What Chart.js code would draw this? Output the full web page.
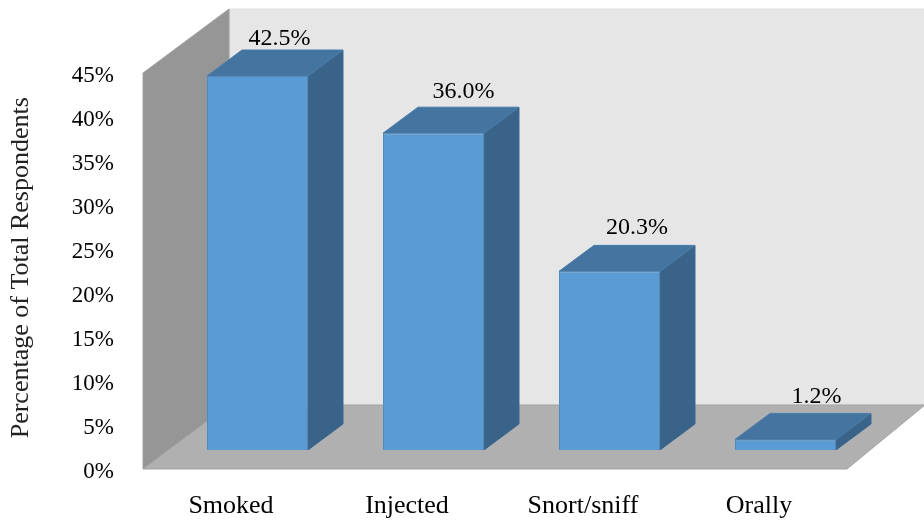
<!DOCTYPE html>
<html>
<head>
<meta charset="utf-8">
<title>Route of administration</title>
<script src="https://cdn.jsdelivr.net/npm/chart.js@4/dist/chart.umd.min.js"></script>
<style>
    html, body { margin: 0; padding: 0; background: #ffffff; }
    canvas { display: block; }
</style>
</head>
<body>
<canvas id="routeChart" width="924" height="521"></canvas>
<script>
// Chart data
var categories = ['Smoked', 'Injected', 'Snort/sniff', 'Orally'];
var shares = [42.5, 36.0, 20.3, 1.2];
var yTicks = [0, 5, 10, 15, 20, 25, 30, 35, 40, 45];
var yTitle = 'Percentage of Total Respondents';

// Fake 3D look: depth of the box, depth of each bar, and where bars sit on the floor
var WALL_DEPTH = { x: 86, xRight: 78, y: -64 };
var BAR_DEPTH = { x: 35, y: -26 };
var BAR_SHIFT = { x: 26.5, y: -19 };
var LABEL_NUDGE = [{ x: 22, y: -11 }, { x: 30, y: -15 }, { x: 27.5, y: -18 }, { x: 31, y: -17 }];
var TICK_DROP = 3;

var FONT = '"Liberation Serif", serif';

function fillPoly(ctx, points, fill, stroke) {
    ctx.beginPath();
    points.forEach(function(p, i) {
        if (i === 0) {
            ctx.moveTo(p[0], p[1]);
        } else {
            ctx.lineTo(p[0], p[1]);
        }
    });
    ctx.closePath();
    ctx.fillStyle = fill;
    ctx.fill();
    if (stroke) {
        ctx.lineWidth = 1;
        ctx.strokeStyle = stroke;
        ctx.stroke();
    }
}

var box3d = {
    id: 'box3d',
    afterLayout: function(chart) {
        // Serif digits sit a little low next to the axis positions
        chart.scales.y.getLabelItems().forEach(function(item) {
            item.textOffset += TICK_DROP;
        });
    },
    beforeDatasetsDraw: function(chart) {
        var ctx = chart.ctx;
        var area = chart.chartArea;
        var d = WALL_DEPTH;

        // Back wall, side wall, floor
        fillPoly(ctx, [[area.left + d.x, area.top + d.y], [area.right + d.xRight, area.top + d.y],
            [area.right + d.xRight, area.bottom + d.y], [area.left + d.x, area.bottom + d.y]], '#e6e6e6', '#dcdcdc');
        fillPoly(ctx, [[area.left, area.top], [area.left + d.x, area.top + d.y],
            [area.left + d.x, area.bottom + d.y], [area.left, area.bottom]], '#969696', '#a0a0a0');
        fillPoly(ctx, [[area.left, area.bottom], [area.left + d.x, area.bottom + d.y],
            [area.right + d.xRight, area.bottom + d.y], [area.right, area.bottom]], '#b0b0b0', '#a4a4a4');

        // Top and side of every bar, taken from the bar elements
        chart.getDatasetMeta(0).data.forEach(function(bar) {
            var left = bar.x - bar.width / 2 + BAR_SHIFT.x;
            var right = bar.x + bar.width / 2 + BAR_SHIFT.x;
            var top = bar.y + BAR_SHIFT.y;
            var base = bar.base + BAR_SHIFT.y;
            var b = BAR_DEPTH;
            fillPoly(ctx, [[right, top], [right + b.x, top + b.y], [right + b.x, base + b.y], [right, base]], '#3a6389', '#3f6a92');
            fillPoly(ctx, [[left, top], [right, top], [right + b.x, top + b.y], [left + b.x, top + b.y]], '#4475a1', '#4a7ca9');
        });

        // Front faces get drawn by the library, just moved onto the floor
        ctx.save();
        ctx.translate(BAR_SHIFT.x, BAR_SHIFT.y);
    },
    afterDatasetsDraw: function(chart) {
        var ctx = chart.ctx;
        ctx.restore();

        // Value labels
        ctx.save();
        ctx.font = '24px ' + FONT;
        ctx.fillStyle = '#000000';
        ctx.textAlign = 'center';
        ctx.textBaseline = 'middle';
        chart.getDatasetMeta(0).data.forEach(function(bar, i) {
            var x = bar.x + BAR_SHIFT.x + LABEL_NUDGE[i].x;
            var y = bar.y + BAR_SHIFT.y + BAR_DEPTH.y + LABEL_NUDGE[i].y;
            ctx.fillText(shares[i].toFixed(1) + '%', x, y);
        });
        ctx.restore();
    }
};

var routeCtx = document.getElementById('routeChart');
new Chart(routeCtx, {
    type: 'bar',
    data: {
        labels: categories,
        datasets: [{
            label: yTitle,
            data: shares,
            backgroundColor: '#5b9bd5',
            borderColor: '#5589b8',
            borderWidth: 1,
            barPercentage: 1,
            categoryPercentage: 0.574
        }]
    },
    options: {
        responsive: false,
        animation: false,
        clip: false,
        layout: {
            padding: { top: 73, right: 77, left: 0, bottom: 0 }
        },
        plugins: {
            legend: { display: false },
            tooltip: { enabled: false }
        },
        scales: {
            x: {
                grid: { display: false, drawTicks: false },
                border: { display: false },
                ticks: {
                    color: '#000000',
                    padding: 22,
                    maxRotation: 0,
                    font: { family: FONT, size: 26 }
                },
                afterFit: function(scale) {
                    scale.height = 52;
                }
            },
            y: {
                min: 0,
                max: 45,
                grid: { display: false, drawTicks: false },
                border: { display: false },
                afterBuildTicks: function(scale) {
                    scale.ticks = yTicks.map(function(v) { return { value: v }; });
                },
                ticks: {
                    color: '#000000',
                    padding: 29,
                    font: { family: FONT, size: 23 },
                    callback: function(value) {
                        return value + '%';
                    }
                },
                title: {
                    display: true,
                    // leading space nudges the centred title up the axis
                    text: ' ' + yTitle,
                    color: '#222222',
                    padding: { top: 6, bottom: 0 },
                    font: { family: FONT, size: 26, weight: 'normal' }
                },
                afterFit: function(scale) {
                    scale.width = 143;
                }
            }
        }
    },
    plugins: [box3d]
});
</script>
</body>
</html>
